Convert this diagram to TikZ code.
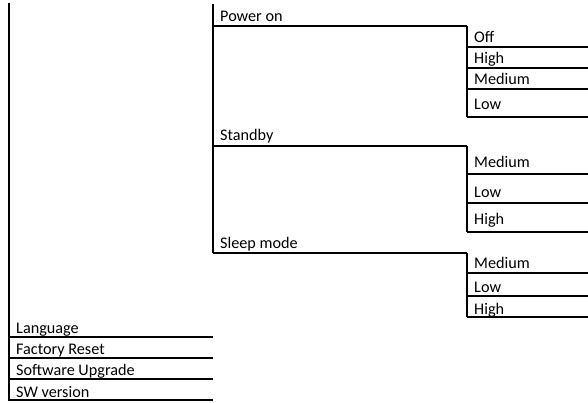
\documentclass[tikz,border=0pt]{standalone}
\usepackage{fontspec}
\setmainfont{Carlito}

\begin{document}
\begin{tikzpicture}[
  x=1pt, y=-1pt,
  font=\fontsize{16.2}{19}\selectfont,
  item/.style={anchor=base west, inner sep=0pt},
  bar/.style={line width=2.6pt},
  rule/.style={line width=2.2pt}
]
\useasboundingbox (0,0) rectangle (588,403);

%======================
% MAIN MENU (left column)
%======================

\coordinate (mainT) at (9,3);
\coordinate (mainB) at (9,401);
\draw[bar] (mainT) -- (mainB);

\node[item] (lang) at (16,333) {Language};
\node[item] (reset) at (16,354) {Factory Reset};
\node[item] (upgr) at (16,375) {Software Upgrade};
\node[item] (swver) at (16,397) {SW version};

\draw[rule] (9,337) -- (213,337);
\draw[rule] (9,358) -- (213,358);
\draw[rule] (9,379) -- (213,379);
\draw[rule] (9,400) -- (213,400);

%======================
% POWER MODES (middle column)
%======================

\coordinate (modeT) at (213,4);
\coordinate (modeB) at (213,253);
\draw[bar] (modeT) -- (modeB);

\node[item] (pwr) at (220,22) {Power on};
\node[item] (stby) at (220,141) {Standby};
\node[item] (sleep) at (220,248) {Sleep mode};

\draw[rule] (213,26) -- (467,26);
\draw[rule] (213,146) -- (467,146);
\draw[rule] (213,253) -- (467,253);

%======================
% BRIGHTNESS (right column)
%======================

% power on
\draw[bar] (467,26) -- (467,117);
\node[item] (pwrOff) at (474,43) {Off};
\node[item] (pwrHigh) at (474,64) {High};
\node[item] (pwrMed) at (474,85) {Medium};
\node[item] (pwrLow) at (474,110) {Low};
\draw[rule] (467,47) -- (588,47);
\draw[rule] (467,68) -- (588,68);
\draw[rule] (467,89) -- (588,89);
\draw[rule] (467,117) -- (588,117);

% standby
\draw[bar] (467,146) -- (467,232);
\node[item] (stbyMed) at (474,168) {Medium};
\node[item] (stbyLow) at (474,197) {Low};
\node[item] (stbyHigh) at (474,225) {High};
\draw[rule] (467,174) -- (588,174);
\draw[rule] (467,203) -- (588,203);
\draw[rule] (467,232) -- (588,232);

% sleep mode
\draw[bar] (467,253) -- (467,317);
\node[item] (slpMed) at (474,268) {Medium};
\node[item] (slpLow) at (474,292) {Low};
\node[item] (slpHigh) at (474,314) {High};
\draw[rule] (467,273) -- (588,273);
\draw[rule] (467,296) -- (588,296);
\draw[rule] (467,317) -- (588,317);

\end{tikzpicture}
\end{document}
